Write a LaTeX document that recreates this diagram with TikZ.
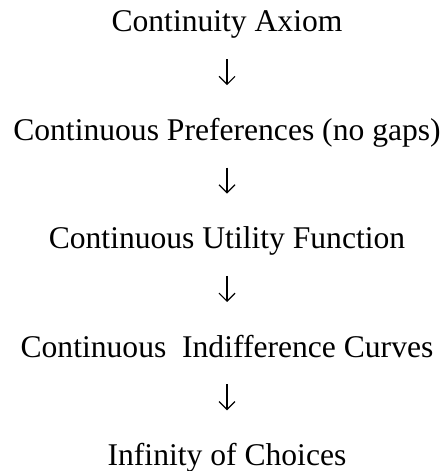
\documentclass[tikz,border=0pt]{standalone}
\usepackage{fontspec}
\setmainfont{Liberation Serif}
\usetikzlibrary{arrows.meta, positioning}
\tikzset{
  stage/.style={inner sep=0pt,text height=22pt,text depth=7pt,font=\fontsize{31.6}{38}\selectfont},
  line/.style={-{Straight Barb[length=8pt,width=16pt]},line width=1.2pt,shorten <=20pt,shorten >=33pt}
}
\begin{document}
\begin{tikzpicture}[node distance=79pt, x=1pt, y=1pt]
\useasboundingbox (0,0) rectangle (445,471);
\node[stage, anchor=base] (a) at (227,439) {Continuity Axiom};
\node[stage, below=of a] (b) {Continuous Preferences (no gaps)};
\node[stage, below=of b] (c) {Continuous Utility Function};
\node[stage, below=of c] (d) {Continuous~~Indifference Curves};
\node[stage, below=of d] (e) {Infinity of Choices};
\draw[line] (a) -- (b);
\draw[line] (b) -- (c);
\draw[line] (c) -- (d);
\draw[line] (d) -- (e);
\end{tikzpicture}
\end{document}
